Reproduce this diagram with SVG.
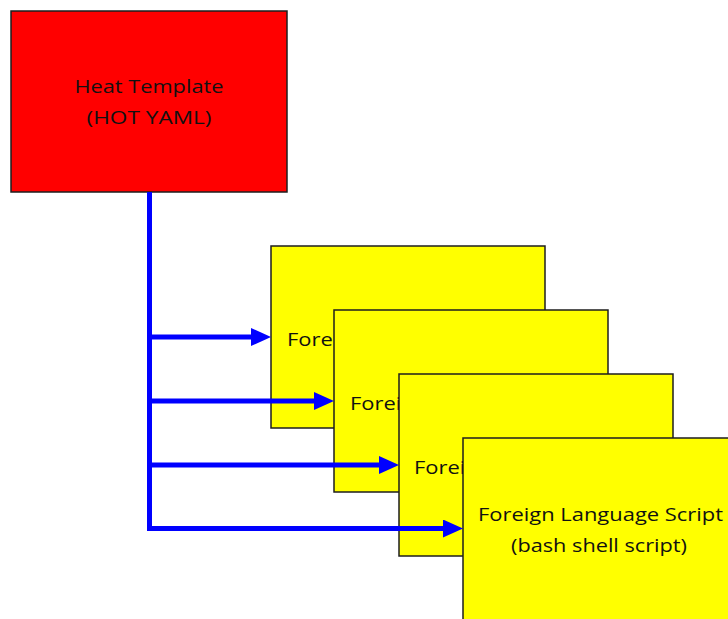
<svg xmlns="http://www.w3.org/2000/svg" width="728" height="619" viewBox="0 0 728 619">
  <style>
    .box { stroke: #1e1e1e; stroke-width: 1.5; }
    .red { fill: #ff0000; }
    .yellow { fill: #ffff00; }
    .label { font-family: "Open Sans", "Liberation Sans", sans-serif; font-size: 18px; fill: #111; }
    .wire { fill: none; stroke: #0000ff; stroke-width: 5; stroke-linejoin: miter; }
  </style>
  <defs>
    <marker id="arrow" markerUnits="userSpaceOnUse" markerWidth="20" markerHeight="18" refX="0" refY="9" orient="auto">
      <path d="M0,0 L20,9 L0,18 z" fill="#0000ff"/>
    </marker>
  </defs>
  <rect width="728" height="619" fill="#ffffff"/>

  <g id="heat-template">
    <rect class="box red" x="11" y="11" width="276" height="181"/>
    <text class="label" x="149" y="93" text-anchor="middle" textLength="149" lengthAdjust="spacingAndGlyphs">Heat Template</text>
    <text class="label" x="149" y="124" text-anchor="middle" textLength="125" lengthAdjust="spacingAndGlyphs">(HOT YAML)</text>
  </g>

  <g id="script-1">
    <rect class="box yellow" x="271" y="246" width="274" height="182"/>
    <text class="label" x="287" y="346" textLength="245" lengthAdjust="spacingAndGlyphs">Foreign Language Script</text>
  </g>

  <g id="script-2">
    <rect class="box yellow" x="334" y="310" width="274" height="182"/>
    <text class="label" x="350" y="410" textLength="245" lengthAdjust="spacingAndGlyphs">Foreign Language Script</text>
  </g>

  <g id="script-3">
    <rect class="box yellow" x="399" y="374" width="274" height="182"/>
    <text class="label" x="414" y="474" textLength="245" lengthAdjust="spacingAndGlyphs">Foreign Language Script</text>
  </g>

  <g id="script-4">
    <rect class="box yellow" x="463" y="438" width="274" height="182"/>
    <text class="label" x="478" y="521" textLength="245" lengthAdjust="spacingAndGlyphs">Foreign Language Script</text>
    <text class="label" x="599" y="552" text-anchor="middle" textLength="176" lengthAdjust="spacingAndGlyphs">(bash shell script)</text>
  </g>

  <g id="connectors">
    <path class="wire" d="M149.5,337 H251" marker-end="url(#arrow)"/>
    <path class="wire" d="M149.5,401 H314" marker-end="url(#arrow)"/>
    <path class="wire" d="M149.5,465 H379" marker-end="url(#arrow)"/>
    <path class="wire" d="M149.5,192 V528.5 H443" marker-end="url(#arrow)"/>
  </g>
</svg>
